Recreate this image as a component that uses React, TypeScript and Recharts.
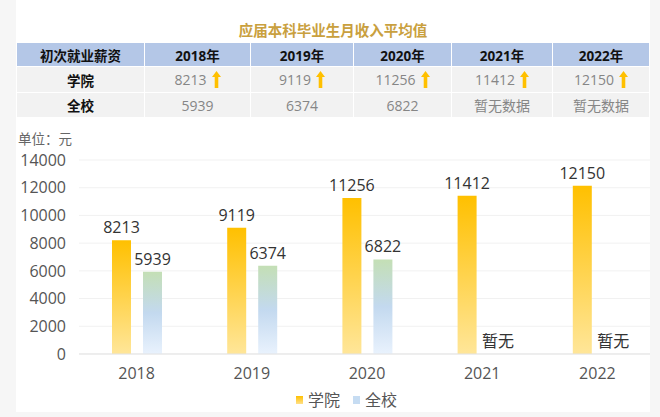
import React from "react";
import { BarChart, Bar, XAxis, YAxis, CartesianGrid, LabelList } from "recharts";

const years = ["2018", "2019", "2020", "2021", "2022"];
const collegeValues = [8213, 9119, 11256, 11412, 12150];
const schoolValues: (number | null)[] = [5939, 6374, 6822, null, null];
const yTicks = [0, 2000, 4000, 6000, 8000, 10000, 12000, 14000];
const tableHeaders = ["初次就业薪资", "2018年", "2019年", "2020年", "2021年", "2022年"];
const rowLabels = ["学院", "全校"];
const noData = "暂无数据";
const noDataShort = "暂无";

const data = years.map((y, i) => ({
  year: y,
  college: collegeValues[i],
  school: schoolValues[i],
  missing: schoolValues[i] == null ? noDataShort : "",
}));

const FONT = '"Open Sans", "Noto Sans CJK SC", sans-serif';
const colWidths = [128, 106, 103, 98, 101, 97];
const BAR = 19;
const GAP = 12;

const Arrow = () => (
  <svg width="9" height="17" viewBox="0 0 9 17" style={{ marginLeft: 5, verticalAlign: "-3px" }}>
    <path d="M4.5 0 L9 6 L6.3 6 L6.3 17 L2.7 17 L2.7 6 L0 6 Z" fill="#ffc000" />
  </svg>
);

const cellBase: React.CSSProperties = {
  boxSizing: "border-box",
  display: "flex",
  alignItems: "center",
  justifyContent: "center",
  borderRight: "1px solid #ffffff",
  fontFamily: FONT,
};

const MissingLabel = (props: any) => {
  const { x, y, width, height, value } = props;
  if (!value) return null;
  const cx = Number(x) + Number(width) + GAP + BAR / 2;
  const bottom = Number(y) + Number(height);
  return (
    <text x={cx} y={bottom - 7} textAnchor="middle" fontSize={16} fill="#333" fontFamily={FONT}>
      {value}
    </text>
  );
};

export default function App() {
  const rows = [
    { label: rowLabels[0], values: collegeValues.map((v) => String(v)), arrow: true },
    { label: rowLabels[1], values: schoolValues.map((v) => (v == null ? noData : String(v))), arrow: false },
  ];
  return (
    <div style={{ position: "absolute", left: 0, top: 0, width: 660, height: 417, background: "#f6f6f6", overflow: "hidden" }}>
      <div style={{ position: "absolute", left: 16, top: 0, width: 634, height: 412, background: "#ffffff", overflow: "hidden" }}>
        <div
          style={{
            position: "absolute",
            left: 0,
            top: 20,
            width: 634,
            textAlign: "center",
            fontFamily: FONT,
            fontWeight: 700,
            fontSize: 14.5,
            color: "#c9a03e",
            lineHeight: "22px",
          }}
        >
          应届本科毕业生月收入平均值
        </div>
        <div style={{ position: "absolute", left: 1, top: 43, width: 633 }}>
          <div style={{ display: "flex", height: 24, background: "#b4c7e7", borderBottom: "1px solid #fff", boxSizing: "border-box" }}>
            {tableHeaders.map((h, i) => (
              <div key={h} style={{ ...cellBase, width: colWidths[i], fontWeight: 700, fontSize: 13.5, color: "#111" }}>
                {h}
              </div>
            ))}
          </div>
          {rows.map((r, ri) => (
            <div
              key={r.label}
              style={{ display: "flex", height: ri === 0 ? 26 : 25, background: "#f2f2f2", borderBottom: "1px solid #fff", boxSizing: "border-box" }}
            >
              <div style={{ ...cellBase, width: colWidths[0], fontWeight: 700, fontSize: 13.5, color: "#111" }}>{r.label}</div>
              {r.values.map((v, i) => (
                <div key={i} style={{ ...cellBase, width: colWidths[i + 1], fontSize: 14, color: "#868686" }}>
                  <span>{v}</span>
                  {r.arrow ? <Arrow /> : null}
                </div>
              ))}
            </div>
          ))}
        </div>
        <div style={{ position: "absolute", left: 2, top: 129, fontFamily: FONT, fontSize: 13.5, color: "#666", lineHeight: "20px" }}>
          单位：元
        </div>
        <div style={{ position: "absolute", left: -16, top: 0 }}>
          <BarChart
            width={660}
            height={417}
            data={data}
            margin={{ top: 160, right: 5, bottom: 33, left: 0 }}
            barSize={BAR}
            barGap={GAP}
          >
            <defs>
              <linearGradient id="gCollege" x1="0" y1="0" x2="0" y2="1">
                <stop offset="0%" stopColor="#ffc000" />
                <stop offset="100%" stopColor="#ffe699" />
              </linearGradient>
              <linearGradient id="gSchool" x1="0" y1="0" x2="0" y2="1">
                <stop offset="0%" stopColor="#c4dfb5" />
                <stop offset="50%" stopColor="#c3d9ef" />
                <stop offset="100%" stopColor="#e9f2fd" />
              </linearGradient>
            </defs>
            <CartesianGrid vertical={false} stroke="#f1f1f1" />
            <XAxis
              dataKey="year"
              height={30}
              tickLine={false}
              tickSize={0}
              tickMargin={14}
              axisLine={{ stroke: "#e3e3e3" }}
              tick={{ fontSize: 16, fill: "#555", fontFamily: FONT }}
            />
            <YAxis
              width={79}
              domain={[0, 14000]}
              ticks={yTicks}
              interval={0}
              tickLine={false}
              axisLine={false}
              tickSize={0}
              tickMargin={13}
              tick={{ fontSize: 16, fill: "#555", fontFamily: FONT }}
            />
            <Bar dataKey="college" fill="url(#gCollege)" isAnimationActive={false}>
              <LabelList dataKey="college" position="top" offset={7} style={{ fontSize: 16, fill: "#333", fontFamily: FONT }} />
              <LabelList dataKey="missing" content={MissingLabel} />
            </Bar>
            <Bar dataKey="school" fill="url(#gSchool)" isAnimationActive={false}>
              <LabelList dataKey="school" position="top" offset={7} style={{ fontSize: 16, fill: "#333", fontFamily: FONT }} />
            </Bar>
          </BarChart>
        </div>
        <div
          style={{
            position: "absolute",
            left: 280,
            top: 389,
            display: "flex",
            alignItems: "center",
            fontFamily: FONT,
            fontSize: 16,
            color: "#555",
            lineHeight: "22px",
          }}
        >
          <span style={{ display: "inline-block", width: 7, height: 8, background: "linear-gradient(#ffc000, #ffe08a)", marginRight: 5 }} />
          <span>学院</span>
          <span style={{ display: "inline-block", width: 7, height: 8, background: "#c6dcf2", marginLeft: 13, marginRight: 5 }} />
          <span>全校</span>
        </div>
      </div>
    </div>
  );
}
